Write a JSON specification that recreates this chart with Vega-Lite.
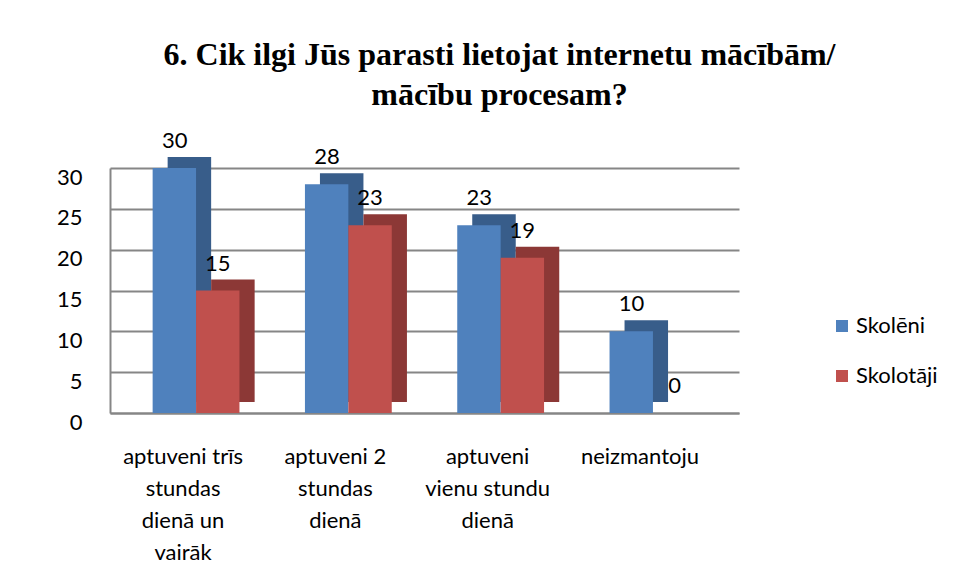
{
  "$schema": "https://vega.github.io/schema/vega-lite/v6.json",
  "autosize": {"type": "none"},
  "width": 629,
  "height": 245,
  "padding": {"left": 110, "top": 168, "right": 216, "bottom": 169},
  "background": "white",
  "title": {
    "text": ["6. Cik ilgi Jūs parasti lietojat  internetu mācībām/", "mācību procesam?"],
    "font": "Liberation Serif",
    "fontSize": 32,
    "fontWeight": "bold",
    "color": "black",
    "anchor": "middle",
    "frame": "group",
    "lineHeight": 40,
    "dx": 75,
    "offset": 18
  },
  "config": {
    "view": {"stroke": null},
    "font": "Lato"
  },
  "data": {
    "values": [
      {"kategorija": "aptuveni trīs\nstundas\ndienā un\nvairāk", "grupa": "Skolēni", "skaits": 30},
      {"kategorija": "aptuveni 2\nstundas\ndienā", "grupa": "Skolēni", "skaits": 28},
      {"kategorija": "aptuveni\nvienu stundu\ndienā", "grupa": "Skolēni", "skaits": 23},
      {"kategorija": "neizmantoju", "grupa": "Skolēni", "skaits": 10},
      {"kategorija": "aptuveni trīs\nstundas\ndienā un\nvairāk", "grupa": "Skolotāji", "skaits": 15},
      {"kategorija": "aptuveni 2\nstundas\ndienā", "grupa": "Skolotāji", "skaits": 23},
      {"kategorija": "aptuveni\nvienu stundu\ndienā", "grupa": "Skolotāji", "skaits": 19},
      {"kategorija": "neizmantoju", "grupa": "Skolotāji", "skaits": 0}
    ]
  },
  "encoding": {
    "x": {
      "field": "kategorija",
      "type": "nominal",
      "sort": null,
      "scale": {"paddingInner": 0.43, "paddingOuter": 0.28},
      "axis": {
        "title": null,
        "labelAngle": 0,
        "labelExpr": "split(datum.label, '\\n')",
        "labelFontSize": 22,
        "labelLineHeight": 32,
        "labelColor": "black",
        "labelPadding": 33,
        "labelBaseline": "top",
        "labelOffset": -13,
        "ticks": false,
        "domainColor": "#868686",
        "domainWidth": 2,
        "labelLimit": 200
      }
    },
    "y": {
      "field": "skaits",
      "type": "quantitative",
      "scale": {"domain": [0, 30], "nice": false},
      "axis": {
        "title": null,
        "values": [0, 5, 10, 15, 20, 25, 30],
        "labelFontSize": 22,
        "labelColor": "black",
        "labelPadding": 28,
        "labelOffset": 9,
        "ticks": false,
        "domainColor": "#868686",
        "domainWidth": 2,
        "gridColor": "#868686",
        "gridWidth": 2
      }
    }
  },
  "layer": [
    {
      "mark": {"type": "bar", "yOffset": -11},
      "encoding": {
        "xOffset": {
          "field": "grupa",
          "type": "nominal",
          "sort": ["Skolēni", "Skolotāji"],
          "scale": {"paddingInner": 0, "paddingOuter": 0, "range": [15, 102]}
        },
        "color": {
          "field": "grupa",
          "type": "nominal",
          "scale": {"domain": ["Skolēni", "Skolotāji"], "range": ["#385D8A", "#8C3836"]},
          "legend": null
        }
      }
    },
    {
      "mark": {"type": "bar"},
      "encoding": {
        "xOffset": {
          "field": "grupa",
          "type": "nominal",
          "sort": ["Skolēni", "Skolotāji"],
          "scale": {"paddingInner": 0, "paddingOuter": 0}
        },
        "color": {
          "field": "grupa",
          "type": "nominal",
          "scale": {"domain": ["Skolēni", "Skolotāji"], "range": ["#4F81BD", "#C0504D"]},
          "legend": {
            "title": null,
            "orient": "none",
            "legendX": 721,
            "legendY": 147,
            "symbolType": "square",
            "symbolSize": 144,
            "symbolStrokeWidth": 0,
            "labelFontSize": 22,
            "labelColor": "black",
            "rowPadding": 28,
            "labelOffset": 3
          }
        }
      }
    },
    {
      "mark": {"type": "text", "fontSize": 22, "color": "black", "baseline": "middle", "dy": -27},
      "encoding": {
        "xOffset": {
          "field": "grupa",
          "type": "nominal",
          "sort": ["Skolēni", "Skolotāji"],
          "scale": {"type": "point", "padding": 0, "range": [22, 65]}
        },
        "text": {"field": "skaits", "type": "quantitative"}
      }
    }
  ],
  "resolve": {"scale": {"color": "independent", "xOffset": "independent"}}
}
